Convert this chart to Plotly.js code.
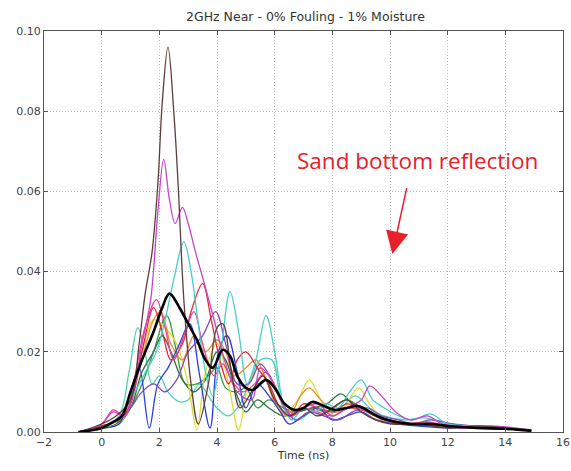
<!DOCTYPE html>
<html>
<head>
<meta charset="utf-8">
<script src="https://cdn.plot.ly/plotly-3.0.1.min.js"></script>
<style>
  html, body { margin: 0; padding: 0; background: #fff; }
  #chart { width: 571px; height: 471px; }
</style>
</head>
<body>
<div id="chart"></div>
<script>
// Reflected amplitude traces (time in ns, amplitude)
const tBrown = [-0.8, 0, 0.5, 1.0, 1.3, 1.5, 1.75, 1.95, 2.1, 2.3, 2.5, 2.65, 2.85, 3.1, 3.35, 3.7, 4.0, 4.2, 4.5, 4.8, 5.2, 5.6, 6.0, 6.5, 7.0, 7.5, 8.0, 8.5, 9.0, 9.5, 10.0, 11.0, 12.0, 13.0, 14.0, 14.9];
const vBrown = [0, 0.002, 0.004, 0.008, 0.022, 0.034, 0.045, 0.062, 0.082, 0.096, 0.08, 0.062, 0.033, 0.012, 0.002, 0.012, 0.026, 0.027, 0.015, 0.006, 0.01, 0.014, 0.008, 0.004, 0.006, 0.004, 0.006, 0.008, 0.005, 0.003, 0.002, 0.002, 0.001, 0.0015, 0.001, 0.0005];

const tMagenta = [-0.8, 0, 0.4, 0.8, 1.1, 1.4, 1.7, 1.95, 2.15, 2.35, 2.55, 2.8, 3.0, 3.25, 3.6, 3.9, 4.3, 4.7, 5.2, 5.5, 5.8, 6.2, 6.6, 7.0, 7.5, 8.0, 8.5, 9.0, 9.3, 9.7, 10.2, 10.7, 11.3, 11.8, 12.5, 13.5, 14.9];
const vMagenta = [0, 0.002, 0.005, 0.004, 0.01, 0.022, 0.033, 0.055, 0.068, 0.058, 0.052, 0.056, 0.052, 0.045, 0.036, 0.028, 0.017, 0.01, 0.008, 0.016, 0.014, 0.008, 0.004, 0.006, 0.007, 0.004, 0.006, 0.008, 0.0115, 0.009, 0.005, 0.003, 0.004, 0.002, 0.001, 0.0015, 0.0005];

const tCyan = [-0.8, 0, 0.5, 1.0, 1.3, 1.6, 1.9, 2.2, 2.5, 2.85, 3.1, 3.35, 3.6, 3.85, 4.1, 4.45, 4.75, 5.05, 5.35, 5.7, 6.0, 6.3, 6.6, 7.0, 7.4, 7.8, 8.2, 8.6, 9.0, 9.4, 9.8, 10.3, 10.8, 11.4, 12.0, 13.0, 14.0, 14.9];
const vCyan = [0, 0.001, 0.003, 0.008, 0.012, 0.016, 0.02, 0.028, 0.038, 0.0475, 0.04, 0.027, 0.015, 0.009, 0.018, 0.035, 0.025, 0.012, 0.018, 0.029, 0.02, 0.007, 0.003, 0.006, 0.005, 0.007, 0.006, 0.01, 0.013, 0.008, 0.006, 0.004, 0.003, 0.0045, 0.002, 0.0015, 0.001, 0.0005];

const tTeal = [-0.8, 0, 0.6, 0.95, 1.25, 1.5, 1.75, 2.0, 2.3, 2.7, 3.0, 3.4, 3.7, 4.0, 4.4, 4.8, 5.2, 5.5, 5.9, 6.3, 6.8, 7.3, 7.8, 8.3, 8.8, 9.3, 9.8, 10.5, 11.2, 12.0, 13.0, 14.0, 14.9];
const vTeal = [0, 0.001, 0.004, 0.015, 0.026, 0.02, 0.012, 0.014, 0.01, 0.0075, 0.008, 0.012, 0.009, 0.006, 0.004, 0.007, 0.014, 0.018, 0.018, 0.006, 0.003, 0.005, 0.004, 0.006, 0.009, 0.006, 0.004, 0.003, 0.0035, 0.002, 0.001, 0.001, 0.0004];

const tRed = [-0.8, 0, 0.6, 1.0, 1.4, 1.8, 2.1, 2.4, 2.8, 3.1, 3.5, 3.8, 4.1, 4.4, 4.7, 5.0, 5.4, 5.8, 6.2, 6.6, 7.0, 7.5, 8.0, 8.5, 9.0, 9.5, 10.0, 10.8, 11.5, 12.5, 13.5, 14.9];
const vRed = [0, 0.0015, 0.003, 0.007, 0.02, 0.031, 0.025, 0.018, 0.022, 0.03, 0.037, 0.028, 0.018, 0.012, 0.018, 0.02, 0.016, 0.012, 0.006, 0.004, 0.007, 0.006, 0.005, 0.007, 0.006, 0.004, 0.003, 0.002, 0.002, 0.0015, 0.001, 0.0004];

const tBlue = [-0.8, 0, 0.6, 1.0, 1.3, 1.65, 1.95, 2.3, 2.7, 3.05, 3.4, 3.76, 4.05, 4.35, 4.7, 5.0, 5.4, 5.8, 6.2, 6.5, 7.0, 7.5, 8.0, 8.5, 9.0, 9.5, 10.2, 11.0, 12.0, 13.0, 14.0, 14.9];
const vBlue = [0, 0.001, 0.002, 0.01, 0.016, 0.001, 0.012, 0.016, 0.022, 0.027, 0.014, 0.001, 0.02, 0.024, 0.015, 0.006, 0.012, 0.009, 0.005, 0.002, 0.004, 0.006, 0.003, 0.004, 0.005, 0.003, 0.002, 0.0015, 0.001, 0.0012, 0.0008, 0.0003];

const tGreen = [-0.8, 0, 0.6, 1.0, 1.4, 1.8, 2.25, 2.6, 2.9, 3.3, 3.7, 4.0, 4.3, 4.7, 5.0, 5.4, 5.8, 6.3, 6.8, 7.3, 7.8, 8.5, 9.0, 9.6, 10.5, 11.5, 12.5, 13.5, 14.9];
const vGreen = [0, 0.0008, 0.002, 0.006, 0.012, 0.02, 0.029, 0.02, 0.012, 0.012, 0.014, 0.016, 0.011, 0.01, 0.011, 0.006, 0.008, 0.006, 0.005, 0.006, 0.005, 0.008, 0.006, 0.004, 0.002, 0.0015, 0.001, 0.001, 0.0004];

const tYellow = [-0.8, 0, 0.6, 1.0, 1.4, 1.8, 2.2, 2.6, 3.0, 3.3, 3.6, 4.0, 4.4, 4.75, 5.1, 5.5, 5.9, 6.3, 6.8, 7.2, 7.6, 8.0, 8.4, 8.9, 9.3, 9.8, 10.5, 11.3, 12.0, 13.0, 14.0, 14.9];
const vYellow = [0, 0.001, 0.002, 0.008, 0.02, 0.028, 0.026, 0.022, 0.012, 0.0005, 0.015, 0.022, 0.012, 0.0005, 0.012, 0.016, 0.01, 0.004, 0.008, 0.013, 0.008, 0.004, 0.006, 0.011, 0.007, 0.003, 0.002, 0.0025, 0.0015, 0.001, 0.0008, 0.0003];

const tOrange = [-0.8, 0, 0.6, 1.0, 1.4, 1.8, 2.05, 2.4, 2.8, 3.2, 3.6, 4.0, 4.3, 4.6, 5.0, 5.35, 5.7, 6.1, 6.5, 6.9, 7.2, 7.6, 8.1, 8.6, 9.0, 9.6, 10.3, 11.0, 12.0, 13.0, 14.0, 14.9];
const vOrange = [0, 0.0015, 0.003, 0.008, 0.018, 0.028, 0.03, 0.022, 0.018, 0.024, 0.02, 0.023, 0.02, 0.014, 0.016, 0.018, 0.013, 0.006, 0.004, 0.009, 0.011, 0.008, 0.005, 0.006, 0.005, 0.003, 0.002, 0.002, 0.0012, 0.001, 0.0008, 0.0003];

const tPurple = [-0.8, 0, 0.6, 1.0, 1.4, 1.8, 2.2, 2.6, 3.0, 3.5, 3.95, 4.3, 4.7, 5.1, 5.5, 5.9, 6.3, 6.7, 7.2, 7.7, 8.2, 8.7, 9.2, 9.7, 10.3, 10.8, 11.4, 12.2, 13.0, 14.0, 14.9];
const vPurple = [0, 0.0015, 0.003, 0.006, 0.01, 0.012, 0.01, 0.013, 0.02, 0.024, 0.03, 0.022, 0.012, 0.012, 0.017, 0.013, 0.007, 0.003, 0.005, 0.004, 0.003, 0.005, 0.006, 0.004, 0.003, 0.002, 0.003, 0.002, 0.0015, 0.001, 0.0004];

const tPink = [-0.8, 0, 0.4, 0.8, 1.1, 1.5, 1.9, 2.2, 2.5, 2.9, 3.2, 3.5, 3.9, 4.2, 4.5, 4.9, 5.3, 5.7, 6.1, 6.5, 7.0, 7.5, 8.0, 8.6, 9.2, 9.8, 10.5, 11.3, 12.0, 13.0, 14.0, 14.9];
const vPink = [0, 0.002, 0.0055, 0.004, 0.012, 0.026, 0.033, 0.026, 0.018, 0.025, 0.03, 0.022, 0.014, 0.017, 0.013, 0.01, 0.012, 0.015, 0.01, 0.005, 0.006, 0.005, 0.004, 0.006, 0.005, 0.003, 0.002, 0.0025, 0.0015, 0.001, 0.0008, 0.0003];

const tDkGreen = [-0.8, 0, 0.5, 1.0, 1.4, 1.8, 2.1, 2.4, 2.8, 3.2, 3.6, 4.0, 4.3, 4.7, 5.0, 5.4, 5.8, 6.3, 6.8, 7.3, 7.8, 8.3, 8.7, 9.2, 9.8, 10.5, 11.5, 12.5, 14.0, 14.9];
const vDkGreen = [0, 0.001, 0.002, 0.006, 0.015, 0.02, 0.024, 0.02, 0.013, 0.01, 0.013, 0.02, 0.018, 0.009, 0.005, 0.008, 0.006, 0.004, 0.005, 0.006, 0.007, 0.0095, 0.007, 0.005, 0.003, 0.002, 0.0015, 0.001, 0.0008, 0.0003];

// Averaged response (thick black)
const tMean = [-0.8, -0.3, 0, 0.4, 0.7, 1.0, 1.4, 1.8, 2.1, 2.35, 2.7, 3.0, 3.3, 3.6, 3.85, 4.2, 4.45, 4.7, 5.0, 5.25, 5.7, 6.0, 6.35, 6.7, 7.0, 7.3, 7.7, 8.1, 8.5, 8.9, 9.3, 9.7, 10.2, 10.8, 11.4, 12.0, 13.0, 14.0, 14.9];
const vMean = [0, 0.0005, 0.001, 0.0025, 0.004, 0.01, 0.018, 0.025, 0.031, 0.0345, 0.031, 0.027, 0.023, 0.018, 0.016, 0.0205, 0.019, 0.014, 0.011, 0.0105, 0.013, 0.011, 0.007, 0.0055, 0.006, 0.0075, 0.0065, 0.0055, 0.006, 0.0065, 0.005, 0.0035, 0.0025, 0.002, 0.002, 0.0015, 0.001, 0.0008, 0.0003];

const series = [
  { t: tTeal,    v: vTeal,    color: '#4fd0b8' },
  { t: tGreen,   v: vGreen,   color: '#3a9a3a' },
  { t: tDkGreen, v: vDkGreen, color: '#2e6e46' },
  { t: tYellow,  v: vYellow,  color: '#dede30' },
  { t: tOrange,  v: vOrange,  color: '#f08a30' },
  { t: tBlue,    v: vBlue,    color: '#2a3de0' },
  { t: tPurple,  v: vPurple,  color: '#8048c0' },
  { t: tRed,     v: vRed,     color: '#e4283a' },
  { t: tPink,    v: vPink,    color: '#f0408c' },
  { t: tCyan,    v: vCyan,    color: '#48cccc' },
  { t: tMagenta, v: vMagenta, color: '#c844c8' },
  { t: tBrown,   v: vBrown,   color: '#5c3c3c' }
];

const traces = series.map(s => ({
  x: s.t, y: s.v, type: 'scatter', mode: 'lines',
  line: { color: s.color, width: 1.3, shape: 'spline', smoothing: 1 },
  hoverinfo: 'skip', showlegend: false
}));
traces.push({
  x: tMean, y: vMean, type: 'scatter', mode: 'lines',
  line: { color: '#000', width: 2.6, shape: 'spline', smoothing: 1 },
  hoverinfo: 'skip', showlegend: false
});

const axisCommon = {
  showline: true, linecolor: '#555', linewidth: 1, mirror: 'allticks',
  ticks: 'inside', ticklen: 4, tickcolor: '#555',
  showgrid: true, gridcolor: '#bdbdbd', griddash: '1px,2px', gridwidth: 1,
  zeroline: false,
  tickfont: { family: 'DejaVu Sans', size: 11, color: '#444' }
};

const layout = {
  width: 571, height: 471,
  margin: { l: 44, r: 8, t: 31, b: 39 },
  paper_bgcolor: '#fff', plot_bgcolor: '#fff',
  title: {
    text: '2GHz Near - 0% Fouling - 1% Moisture',
    font: { family: 'DejaVu Sans', size: 12.5, color: '#333' },
    x: 0.535, xanchor: 'center', y: 0.965, yanchor: 'middle'
  },
  xaxis: Object.assign({}, axisCommon, {
    range: [-2, 16], dtick: 2, tick0: 0,
    title: { text: 'Time (ns)', font: { family: 'DejaVu Sans', size: 11, color: '#333' }, standoff: 3 }
  }),
  yaxis: Object.assign({}, axisCommon, {
    range: [0, 0.1], dtick: 0.02, tickformat: '.2f'
  }),
  annotations: [
    {
      x: 10.95, y: 0.0676, xref: 'x', yref: 'y',
      text: 'Sand bottom reflection', showarrow: false,
      font: { family: 'Open Sans', size: 22.5, color: '#e8202a' }
    },
    {
      x: 10.08, y: 0.0444, xref: 'x', yref: 'y',
      ax: 10.59, ay: 0.0612, axref: 'x', ayref: 'y',
      text: '', showarrow: true, arrowhead: 2, arrowsize: 3,
      arrowwidth: 1.5, arrowcolor: '#e8202a'
    }
  ]
};

Plotly.newPlot('chart', traces, layout, { staticPlot: true, displayModeBar: false });
</script>
</body>
</html>
